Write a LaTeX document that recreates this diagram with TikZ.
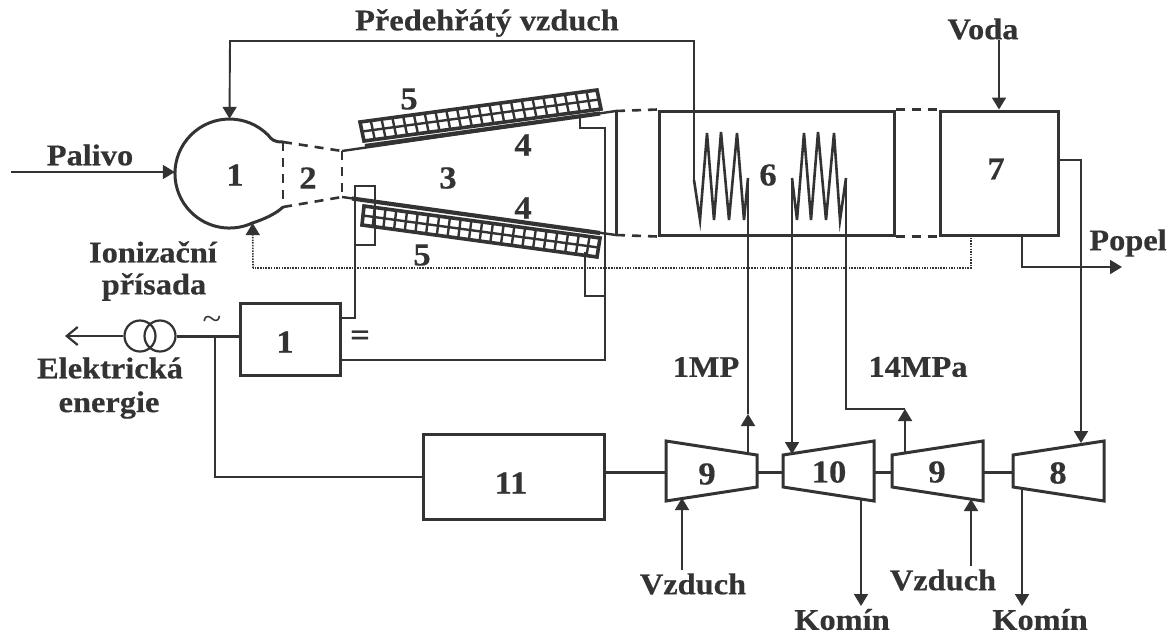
\documentclass[tikz,border=0pt]{standalone}
\usepackage{fontspec}
\setmainfont{Liberation Serif}[FakeStretch=1.08,BoldFeatures={FakeBold=0.5}]
\usetikzlibrary{arrows.meta,calc}
\definecolor{ink}{HTML}{333333}
\tikzset{
  wall/.style={draw=ink,line width=3pt,line join=miter},
  thin line/.style={draw=ink,line width=1.9pt,line join=miter},
  coil/.style={draw=ink,line width=2.6pt,line join=miter},
  bar/.style={draw=ink,line width=4.2pt},
  dashwall/.style={draw=ink,line width=2.6pt,dash pattern=on 9pt off 7pt},
  dotline/.style={draw=ink,line width=1.6pt,dash pattern=on 1.5pt off 1.2pt},
  flow/.style={thin line,-{Triangle[length=12pt,width=14pt]}},
  box/.style={wall,rectangle,inner sep=0pt,fill=none},
  lab/.style={text=ink,inner sep=0pt,font=\bfseries\fontsize{30}{30}\selectfont},
  num/.style={text=ink,inner sep=0pt,font=\bfseries\fontsize{32}{32}\selectfont},
  sign/.style={text=ink,inner sep=0pt,font=\fontsize{32}{32}\selectfont},
  cage/.style={draw=ink,line width=2.4pt},
}
\newcommand{\cagegrid}[4]{% corners: #1 tl, #2 tr, #3 br, #4 bl
  \draw[cage,line width=3.6pt,fill=white] (#1)--(#2)--(#3)--(#4)--cycle;
  \foreach \t in {0.0455,0.091,...,0.96}{
    \draw[cage] ($(#1)!\t!(#2)$) -- ($(#4)!\t!(#3)$);
  }
  \draw[cage] ($(#1)!0.5!(#4)$) -- ($(#2)!0.5!(#3)$);
}
\newcommand{\turbine}[5]{% name, tl y, x-left, x-right, tr y
  \coordinate (#1-tl) at (#3,#2);
  \coordinate (#1-tr) at (#4,#5);
  \coordinate (#1-br) at (#4,{942-#5});
  \coordinate (#1-bl) at (#3,{942-#2});
  \draw[wall] (#1-tl)--(#1-tr)--(#1-br)--(#1-bl)--cycle;
}
\begin{document}
\begin{tikzpicture}[x=1pt,y=-1pt]
\useasboundingbox[fill=white] (0,0) rectangle (1174,635);

% main boxes
\node[box,minimum width=235pt,minimum height=124pt] (b6) at (776.5,173) {};
\node[box,minimum width=118pt,minimum height=124pt] (b7) at (999,173) {};
\node[box,minimum width=100pt,minimum height=72pt] (b1) at (290,339) {};
\node[box,minimum width=181pt,minimum height=85pt] (b11) at (513.5,476.5) {};

% combustion chamber
\node[circle,minimum size=109pt,inner sep=0pt] (ch) at (229.5,173.5) {};
\coordinate (chU) at (283,142);
\coordinate (chL) at (283,207);
\coordinate (nozU) at (342,151);
\coordinate (nozL) at (342,197);
\coordinate (chanU) at (616,111);
\coordinate (chanL) at (616,235);
\draw[wall] (chU) .. controls (274,142) and (272,140) .. (268,135)
   arc[start angle=45,end angle=295,radius=54.5pt]
   .. controls (265,219) and (277,213) .. (chL);
\draw[dashwall] (chU) -- (chL);
\draw[dashwall] (chU) -- (nozU);
\draw[dashwall] (chL) -- (nozL);
\draw[dashwall] (nozU) -- (nozL);

% channel walls
\draw[wall,line width=2.4pt] (nozU) -- (chanU);
\draw[wall,line width=2.4pt] (nozL) -- (chanL);
\draw[wall] (chanU) -- (chanL);
\coordinate (barUa) at (365,146);
\coordinate (barUb) at (600,113.5);
\coordinate (barLa) at (352,198.5);
\coordinate (barLb) at (600,233);
\draw[bar] (barUa) -- (barUb);
\draw[bar] (barLa) -- (barLb);

% electrodes
\coordinate (eUa) at (360,122);
\coordinate (eUb) at (597,90);
\coordinate (eUc) at (601,109);
\coordinate (eUd) at (364,141);
\coordinate (eLa) at (364,206);
\coordinate (eLb) at (600,238);
\coordinate (eLc) at (597,257);
\coordinate (eLd) at (362,225);
\cagegrid{eUa}{eUb}{eUc}{eUd}
\cagegrid{eLa}{eLb}{eLc}{eLd}

% dashed links between sections
\draw[dashwall] (chanU) -- (b6.north west);
\draw[dashwall] (chanL) -- (b6.south west);
\draw[dashwall] (b6.north east) -- (b7.north west);
\draw[dashwall] (b6.south east) -- (b7.south west);

% electrode wiring
\coordinate (wA) at (355,318);
\coordinate (wAt) at (355,186);
\coordinate (wAr) at (375,186);
\coordinate (wAb) at (375,245);
\coordinate (wAc) at (355,245);
\coordinate (wB) at (605,360);
\coordinate (wBt) at (605,128);
\coordinate (wBl) at (580,128);
\coordinate (wBe) at (580,116);
\coordinate (wCe) at (585,252);
\coordinate (wCb) at (585,296);
\coordinate (wCr) at (605,296);
\draw[thin line] (b1.east |- wA) -- (wA) -- (wAt) -- (wAr) -- (wAb) -- (wAc);
\draw[thin line] (b1.east |- wB) -- (wB) -- (wBt) -- (wBl) -- (wBe);
\draw[thin line] (wCe) -- (wCb) -- (wCr);

% ionisation additive (dotted)
\coordinate (dA) at (971,235);
\coordinate (dB) at (971,268);
\coordinate (dC) at (253,268);
\draw[dotline] (dA) -- (dB) -- (dC);
\draw[dotline,-{Triangle[length=12pt,width=14pt]}] (dC) -- (ch.-65);

% preheated air
\coordinate (aTop) at (694,41);
\coordinate (aLeft) at (230,41);
\coordinate (z1s) at (694,180);
\draw[flow] (z1s) -- (aTop) -- (aLeft) -- (ch.north);

% coils
\coordinate (z1e) at (748,178);
\coordinate (z2s) at (792,178);
\coordinate (z2e) at (846,178);
\draw[coil] (z1s) -- (700,220) -- (707,133) -- (714,220) -- (721,132) -- (729,220) -- (737,133) -- (744,220) -- (z1e);
\draw[coil] (z2s) -- (797,220) -- (804,133) -- (811,220) -- (818,132) -- (826,220) -- (834,133) -- (840,220) -- (z2e);

% turbines
\turbine{tA}{441}{666}{757}{455}
\turbine{tB}{455}{783}{874}{441}
\turbine{tC}{455}{892}{983}{441}
\turbine{tD}{455}{1013}{1104}{441}
\coordinate (sh) at (0,472);
\draw[wall] (b11.east |- sh) -- (tA-tl |- sh);
\draw[wall] (tA-tr |- sh) -- (tB-tl |- sh);
\draw[wall] (tB-tr |- sh) -- (tC-tl |- sh);
\draw[wall] (tC-tr |- sh) -- (tD-tl |- sh);

% steam / gas lines
\coordinate (mpA) at (748,414);
\coordinate (mpAb) at (748,453);
\draw[flow] (mpAb) -- (mpA);
\draw[thin line] (mpA) -- (z1e);
\coordinate (tinB) at (792,454);
\draw[flow] (z2s) -- (tinB);
\coordinate (mpB) at (905,409);
\coordinate (mpBb) at (905,453);
\draw[flow] (mpBb) -- (mpB);
\draw[thin line] (mpB) -- (846,409) -- (z2e);

% water, ash, exhaust of section 7
\coordinate (vT) at (999,40);
\draw[flow] (vT) -- (b7.north -| vT);
\coordinate (g7) at (1081,160);
\coordinate (g8) at (1081,443);
\draw[flow] (b7.east |- g7) -- (g7) -- (g8);
\coordinate (pA) at (1022,267);
\coordinate (pB) at (1122,267);
\draw[flow] (b7.south -| pA) -- (pA) -- (pB);

% air and stack arrows
\coordinate (vzA) at (682,570);\coordinate (vzAt) at (682,498);
\coordinate (vzB) at (971,566);\coordinate (vzBt) at (971,499);
\coordinate (kA) at (861,606);\coordinate (kAt) at (861,498);
\coordinate (kB) at (1022,606);\coordinate (kBt) at (1022,488);
\draw[flow] (vzA) -- (vzAt);
\draw[flow] (vzB) -- (vzBt);
\draw[flow] (kAt) -- (kA);
\draw[flow] (kBt) -- (kB);
\coordinate (fuel) at (11,172);
\draw[flow] (fuel) -- (ch.west |- fuel);

% electrical side
\coordinate (busY) at (0,336);
\coordinate (junc) at (215,336);
\node[circle,draw=ink,line width=2.2pt,minimum size=31pt,inner sep=0pt] (trA) at (140,336) {};
\node[circle,draw=ink,line width=2.2pt,minimum size=31pt,inner sep=0pt] (trB) at (160,336) {};
\draw[wall] (b1.west |- busY) -- (trB.east);
\coordinate (elOut) at (65,336);
\draw[thin line,line width=2.2pt,-{Straight Barb[length=11pt,width=18pt]}] (trA.west) -- (elOut);
\coordinate (gen) at (215,477);
\draw[thin line,line width=2.4pt] (junc) -- (gen) -- (b11.west |- gen);

% texts
\node[lab] (tPre) at (487,23) {Předehřátý vzduch};
\node[lab] (tPal) at (90,155) {Palivo};
\node[lab] (tIon) at (153,252) {Ionizační};
\node[lab] (tPri) at (154,287) {přísada};
\node[lab] (tEl) at (110,368) {Elektrická};
\node[lab] (tEn) at (109,405) {energie};
\node[lab] (tVoda) at (983,29) {Voda};
\node[lab] (tPop) at (1128,243) {Popel};
\node[lab] (tMP) at (706,367) {1MP};
\node[lab] (t14) at (918,367) {14MPa};
\node[lab] (tVzA) at (693,584) {Vzduch};
\node[lab] (tVzB) at (943,580) {Vzduch};
\node[lab] (tKoA) at (842,619.5) {Komín};
\node[lab] (tKoB) at (1040,619.5) {Komín};
\node[num] (n1a) at (235,175) {1};
\node[num] (n2) at (308,178) {2};
\node[num] (n3) at (448,178) {3};
\node[num] (n4a) at (523,145) {4};
\node[num] (n4b) at (523,208) {4};
\node[num] (n5a) at (409,99) {5};
\node[num] (n5b) at (422,255) {5};
\node[num] (n6) at (768,175) {6};
\node[num] (n7) at (996,169) {7};
\node[num] (n1b) at (285,342) {1};
\node[num] (n11) at (511,483) {11};
\node[num] (n9a) at (707,474) {9};
\node[num] (n10) at (829,472) {10};
\node[num] (n9b) at (937,472) {9};
\node[num] (n8) at (1058,473) {8};
\node[sign] (tTil) at (212,323) {\symbol{126}};
\node[num] (tEq) at (360,338) {=};
\end{tikzpicture}
\end{document}
